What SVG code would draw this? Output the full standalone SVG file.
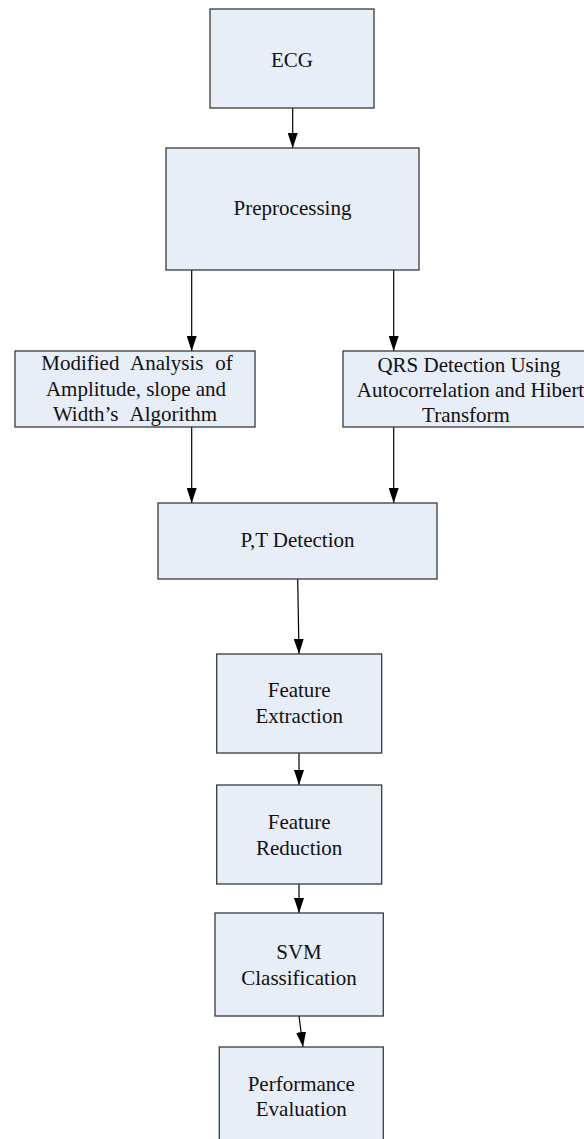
<svg xmlns="http://www.w3.org/2000/svg" width="584" height="1139" viewBox="0 0 584 1139">
  <defs>
    <marker id="arrow" markerUnits="userSpaceOnUse" markerWidth="15" markerHeight="10" viewBox="0 0 15 10" refX="15" refY="5" orient="auto">
      <path d="M0,0 L15,5 L0,10 Z" fill="#000"/>
    </marker>
    <style>
      .box { fill: #E8EEF8; stroke: #3a3a3a; stroke-width: 1.3; }
      .lbl { font-family: "Liberation Serif", "Times New Roman", serif; font-size: 21px; fill: #111; text-anchor: middle; }
      .conn { stroke: #000; stroke-width: 1.2; fill: none; marker-end: url(#arrow); }
    </style>
  </defs>
  <rect width="584" height="1139" fill="#ffffff"/>

  <g id="connectors">
    <path class="conn" d="M292.7,108 L292.7,148"/>
    <path class="conn" d="M191.7,270 L191.7,351"/>
    <path class="conn" d="M393.7,270 L393.7,351"/>
    <path class="conn" d="M191.7,427 L191.7,503"/>
    <path class="conn" d="M393.7,427 L393.7,503"/>
    <path class="conn" d="M297.7,579 L299,654"/>
    <path class="conn" d="M299,753 L299,785"/>
    <path class="conn" d="M299,884 L299,913"/>
    <path class="conn" d="M299,1016 L303,1047"/>
  </g>

  <g id="ecg">
    <rect class="box" x="210" y="9" width="164" height="99"/>
    <text class="lbl" x="292" y="67">ECG</text>
  </g>

  <g id="preprocessing">
    <rect class="box" x="166" y="148" width="253" height="122"/>
    <text class="lbl" x="292.5" y="215">Preprocessing</text>
  </g>

  <g id="modified-analysis">
    <rect class="box" x="15" y="351" width="240" height="76"/>
    <text class="lbl" x="137" y="370" word-spacing="6.5">Modified Analysis of</text>
    <text class="lbl" x="136" y="396">Amplitude, slope and</text>
    <text class="lbl" x="135" y="421" word-spacing="7">Width’s Algorithm</text>
  </g>

  <g id="qrs-detection">
    <rect class="box" x="343" y="351" width="252" height="76"/>
    <text class="lbl" x="469" y="372">QRS Detection Using</text>
    <text class="lbl" x="470.5" y="397">Autocorrelation and Hibert</text>
    <text class="lbl" x="466" y="422">Transform</text>
  </g>

  <g id="pt-detection">
    <rect class="box" x="158" y="503" width="279" height="76"/>
    <text class="lbl" x="297.5" y="547">P,T Detection</text>
  </g>

  <g id="feature-extraction">
    <rect class="box" x="216.7" y="654" width="165" height="99"/>
    <text class="lbl" x="299.2" y="697">Feature</text>
    <text class="lbl" x="299.2" y="723">Extraction</text>
  </g>

  <g id="feature-reduction">
    <rect class="box" x="216.7" y="785" width="165" height="99"/>
    <text class="lbl" x="299.2" y="829">Feature</text>
    <text class="lbl" x="299.2" y="855">Reduction</text>
  </g>

  <g id="svm-classification">
    <rect class="box" x="215" y="913" width="168.3" height="103"/>
    <text class="lbl" x="299" y="959">SVM</text>
    <text class="lbl" x="299" y="985">Classification</text>
  </g>

  <g id="performance-evaluation">
    <rect class="box" x="219.3" y="1047" width="164" height="100"/>
    <text class="lbl" x="301.3" y="1091">Performance</text>
    <text class="lbl" x="301.3" y="1116">Evaluation</text>
  </g>
</svg>
